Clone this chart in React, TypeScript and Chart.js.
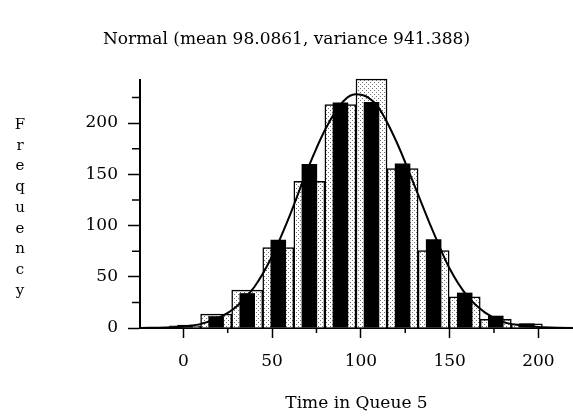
import React, { useEffect, useRef } from "react";
import { Chart, registerables } from "chart.js";

Chart.register(...registerables);

const titleText = "Normal (mean 98.0861, variance 941.388)";
const xAxisTitle = "Time in Queue 5";
const yAxisTitle = "Frequency";

// bin centres (Time in Queue 5)
const binCenters = [-16.5, 1, 18.5, 36, 53.5, 71, 88.5, 106, 123.5, 141, 158.5, 176, 193.5, 211];
// observed frequencies (dotted bars)
const observed = [0, 2, 13.5, 37, 78.5, 143, 218, 243, 155.5, 75.5, 30.5, 8.5, 4, 1];
// fitted normal frequencies (black bars)
const expected = [0.5, 3, 11.5, 34, 86, 160, 220, 220.5, 160.5, 86.5, 34.5, 12, 4.5, 1];

// fitted curve
const curveX = [-24, -10, 0, 10, 20, 30, 40, 50, 60, 70, 80, 90, 97, 104, 110, 120, 130, 140, 150, 160, 170, 180, 190, 200, 210, 219];
const curveY = [0, 0.5, 1.5, 4, 10, 21, 40, 70, 110, 155, 194, 221, 228, 225, 215, 182, 140, 97, 58, 31, 15, 6, 2.5, 1, 0.3, 0];

const xMajorTicks = [0, 50, 100, 150, 200];
const xMinorTicks = [25, 75, 125, 175];
const yMajorTicks = [0, 50, 100, 150, 200];
const yMinorTicks = [25, 75, 125, 175, 225];

const FONT = '"DejaVu Serif", "Liberation Serif", serif';

function makeDotPattern(ctx: CanvasRenderingContext2D) {
  const c = document.createElement("canvas");
  c.width = 4;
  c.height = 4;
  const g = c.getContext("2d")!;
  g.fillStyle = "#ffffff";
  g.fillRect(0, 0, 4, 4);
  g.fillStyle = "#707070";
  g.fillRect(0, 0, 1, 1);
  g.fillRect(2, 2, 1, 1);
  return ctx.createPattern(c, "repeat");
}

const decorPlugin = {
  id: "decor",
  afterDraw(chart: any) {
    const { ctx, scales } = chart;
    const x = scales.x;
    const y = scales.y;
    ctx.save();
    ctx.strokeStyle = "#000";
    ctx.lineWidth = 1.5;
    ctx.beginPath();
    xMinorTicks.forEach((v) => {
      const px = x.getPixelForValue(v);
      ctx.moveTo(px, x.top);
      ctx.lineTo(px, x.top + 5);
    });
    yMinorTicks.forEach((v) => {
      const py = y.getPixelForValue(v);
      ctx.moveTo(y.right, py);
      ctx.lineTo(y.right - 8, py);
    });
    ctx.stroke();
    // vertical stacked y-axis title
    ctx.fillStyle = "#000";
    ctx.font = `15px ${FONT}`;
    ctx.textAlign = "center";
    ctx.textBaseline = "middle";
    const letters = yAxisTitle.split("");
    const spacing = 20.75;
    const mid = (chart.chartArea.top + chart.chartArea.bottom) / 2 + 4;
    const start = mid - ((letters.length - 1) * spacing) / 2;
    letters.forEach((ch, i) => ctx.fillText(ch, 20, start + i * spacing));
    ctx.restore();
  },
};

export default function App() {
  const ref = useRef<HTMLCanvasElement | null>(null);

  useEffect(() => {
    const canvas = ref.current!;
    const ctx = canvas.getContext("2d")!;
    const pattern = makeDotPattern(ctx);
    Chart.defaults.color = "#000";
    const chart = new Chart(ctx, {
      type: "bar",
      data: {
        datasets: [
          {
            type: "line",
            data: curveX.map((v, i) => ({ x: v, y: curveY[i] })),
            borderColor: "#000",
            borderWidth: 2,
            pointRadius: 0,
            cubicInterpolationMode: "monotone",
            fill: false,
            order: 0,
          } as any,
          {
            type: "bar",
            data: binCenters.map((v, i) => ({ x: v, y: expected[i] })),
            backgroundColor: "#000",
            borderWidth: 0,
            grouped: false,
            barPercentage: 0.5,
            categoryPercentage: 1,
            order: 1,
            clip: false,
          } as any,
          {
            type: "bar",
            data: binCenters.map((v, i) => ({ x: v, y: observed[i] })),
            backgroundColor: pattern,
            borderColor: "#000",
            borderWidth: 1.5,
            grouped: false,
            barPercentage: 1,
            categoryPercentage: 1,
            order: 2,
            clip: false,
          } as any,
        ],
      },
      options: {
        animation: false,
        responsive: false,
        layout: { padding: { top: 0, left: 0, right: 0, bottom: 0 } },
        plugins: {
          legend: { display: false },
          tooltip: { enabled: false },
          title: {
            display: true,
            text: titleText,
            color: "#000",
            font: { family: FONT, size: 17, weight: "normal" },
            padding: { top: 29, bottom: 30.6 },
          },
        },
        scales: {
          x: {
            type: "linear",
            min: -24.4,
            max: 219.5,
            offset: false,
            afterFit: (s: any) => {
              s.height = 91;
            },
            afterBuildTicks: (s: any) => {
              s.ticks = xMajorTicks.map((v) => ({ value: v }));
            },
            ticks: {
              autoSkip: false,
              maxRotation: 0,
              padding: 13,
              color: "#000",
              font: { family: FONT, size: 17 },
              callback: (v: any) => String(v),
            },
            grid: {
              offset: false,
              drawOnChartArea: false,
              drawTicks: true,
              tickLength: 10,
              tickWidth: 1.5,
              tickColor: "#000",
            },
            border: { display: true, color: "#000", width: 2 },
            title: {
              display: true,
              text: xAxisTitle,
              color: "#000",
              font: { family: FONT, size: 17 },
              padding: { top: 0, bottom: 5 },
            },
          },
          y: {
            type: "linear",
            min: 0,
            max: 242,
            afterFit: (s: any) => {
              s.width = 140;
            },
            afterBuildTicks: (s: any) => {
              s.ticks = yMajorTicks.map((v) => ({ value: v }));
            },
            ticks: {
              autoSkip: false,
              padding: 10,
              color: "#000",
              font: { family: FONT, size: 17 },
              callback: (v: any) => String(v),
            },
            grid: {
              drawOnChartArea: false,
              drawTicks: true,
              tickLength: 12,
              tickWidth: 1.5,
              tickColor: "#000",
            },
            border: { display: true, color: "#000", width: 2 },
          },
        },
      } as any,
      plugins: [decorPlugin],
    });
    return () => chart.destroy();
  }, []);

  return (
    <div style={{ position: "fixed", left: 0, top: 0, width: 573, height: 419, background: "#fff" }}>
      <canvas ref={ref} width={573} height={419} style={{ display: "block" }} />
    </div>
  );
}
